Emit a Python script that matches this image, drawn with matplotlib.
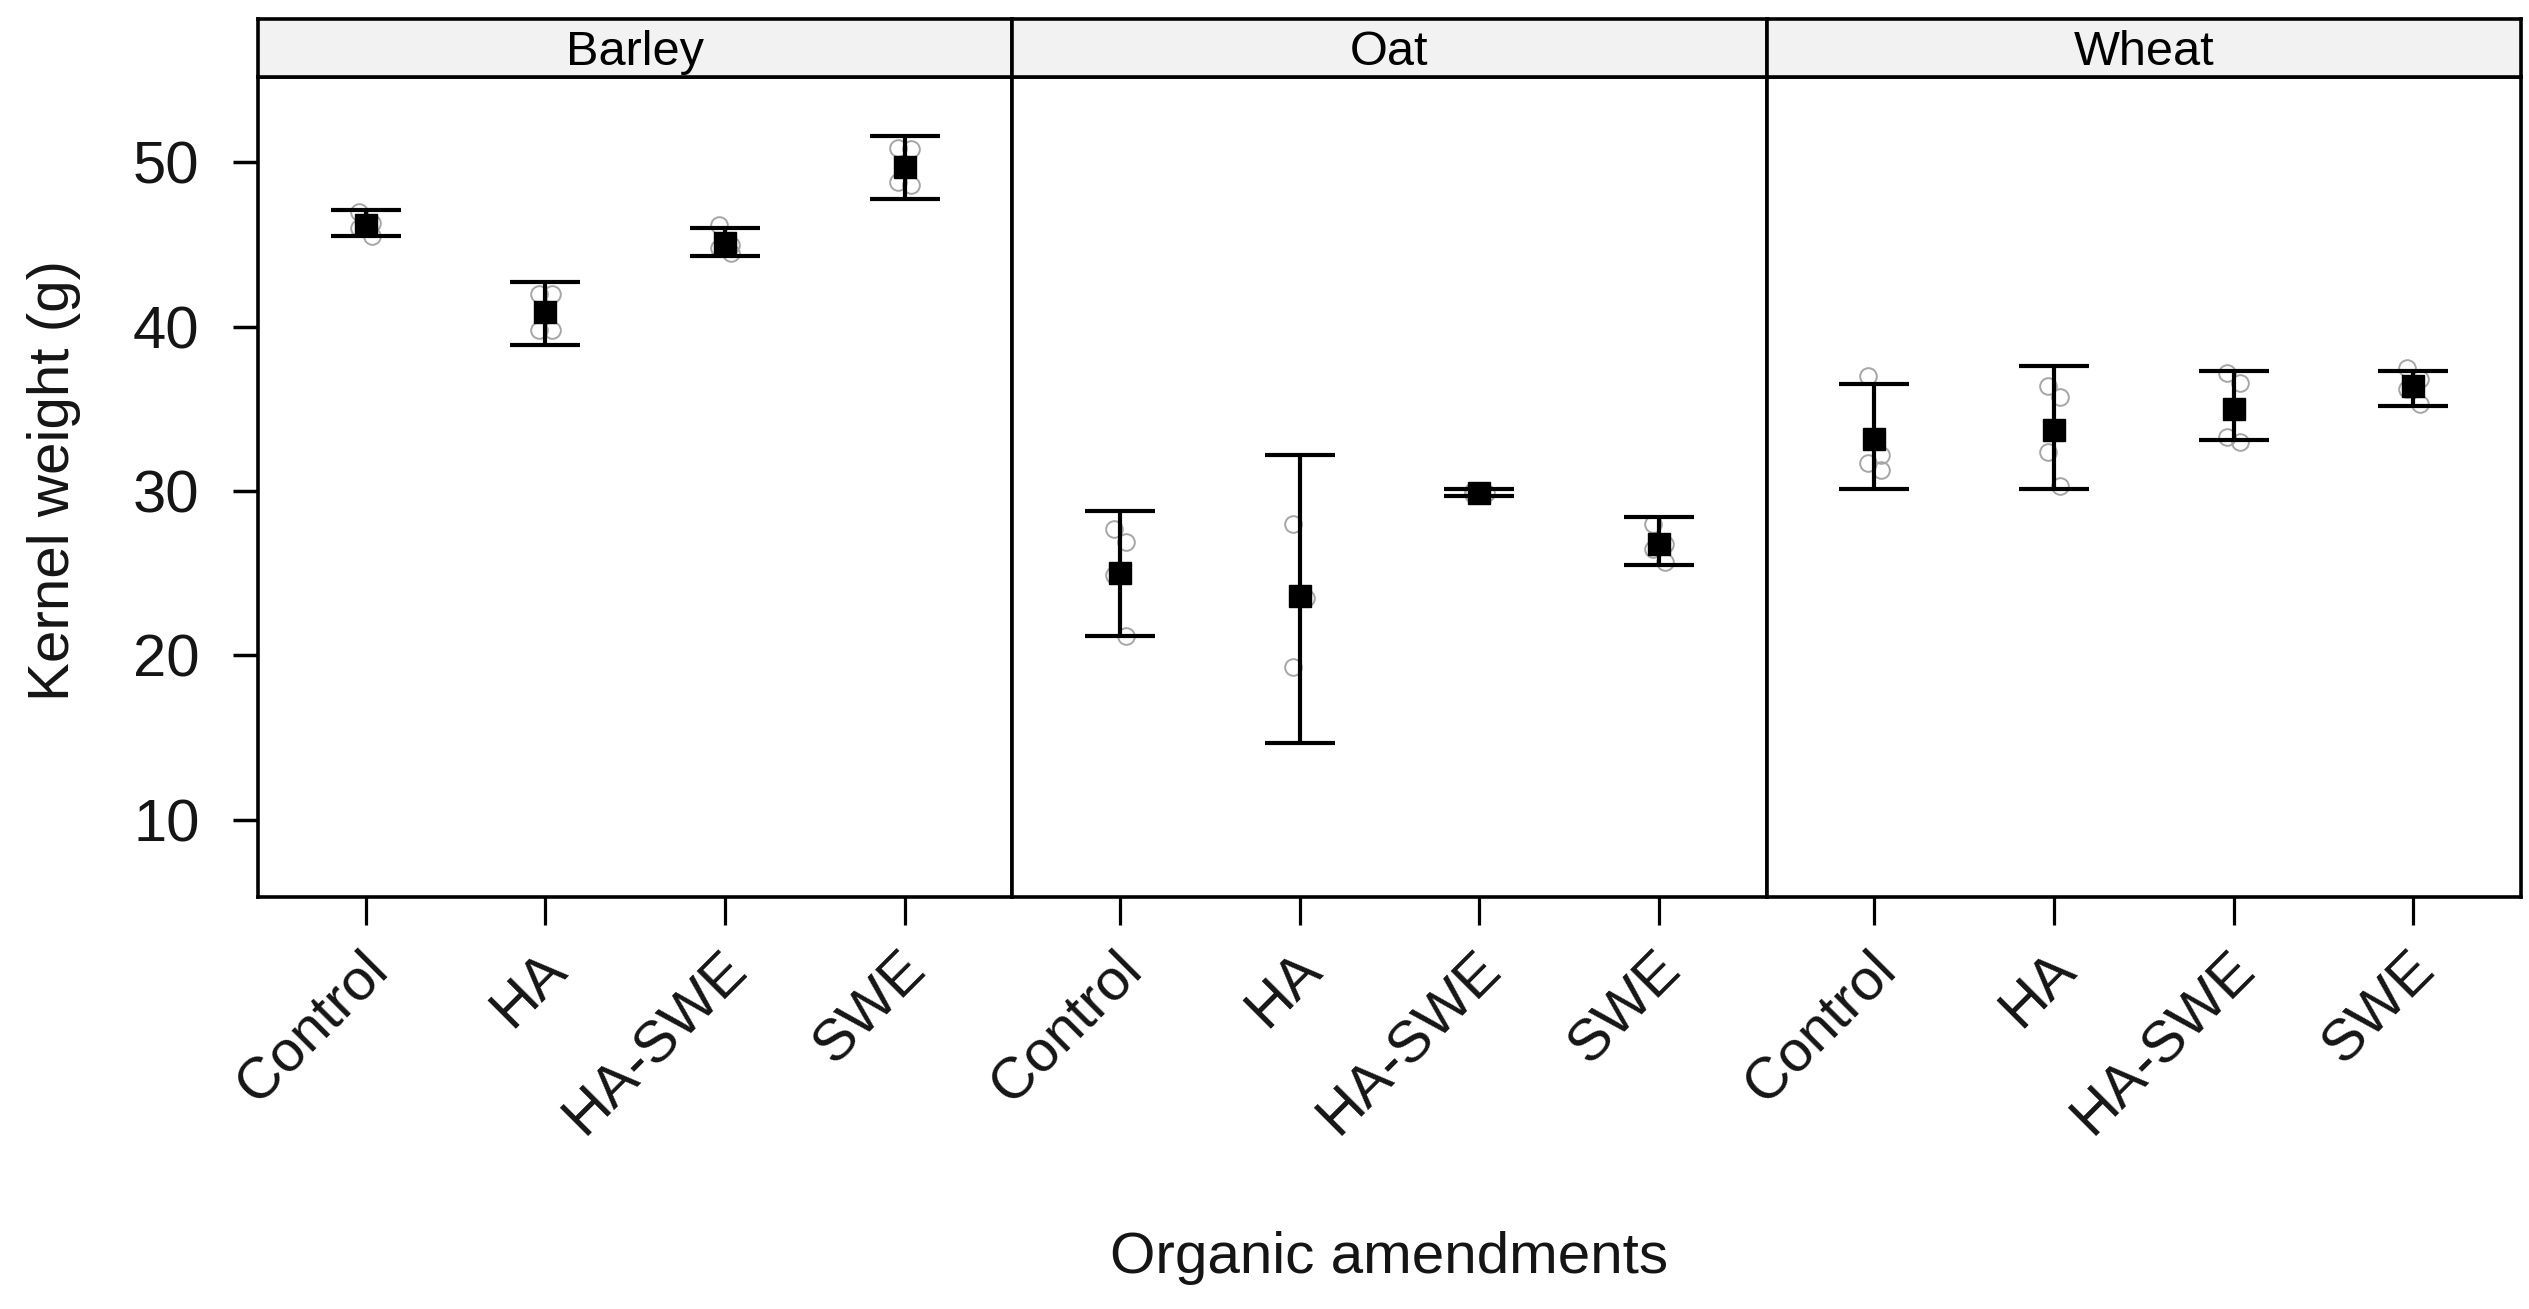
import matplotlib
matplotlib.use("Agg")
import matplotlib.pyplot as plt
import matplotlib.transforms as mtransforms
import numpy as np

plt.rcParams['font.family'] = ['Liberation Sans', 'DejaVu Sans']

crops = ["Barley", "Oat", "Wheat"]
treatments = ["Control", "HA", "HA-SWE", "SWE"]

# group means (g)
means = {
    "Barley": [46.2, 40.9, 45.1, 49.7],
    "Oat": [25.0, 23.6, 29.9, 26.8],
    "Wheat": [33.2, 33.7, 35.0, 36.4],
}
# error bar limits
upper = {
    "Barley": [47.1, 42.7, 46.0, 51.6],
    "Oat": [28.8, 32.2, 30.1, 28.4],
    "Wheat": [36.5, 37.6, 37.3, 37.3],
}
lower = {
    "Barley": [45.5, 38.9, 44.3, 47.8],
    "Oat": [21.2, 14.7, 29.7, 25.5],
    "Wheat": [30.1, 30.1, 33.1, 35.2],
}
# replicate observations
raw = {
    "Barley": [[47.0, 46.3, 46.0, 45.5], [42.0, 42.0, 39.8, 39.8],
               [46.2, 45.0, 44.8, 44.5], [50.9, 50.8, 48.8, 48.6]],
    "Oat": [[27.7, 26.9, 24.9, 21.2], [28.0, 23.5, 19.3],
            [30.0, 29.9, 29.8], [28.0, 26.8, 26.5, 25.7]],
    "Wheat": [[37.0, 32.2, 31.7, 31.3], [36.4, 35.7, 32.4, 30.3],
              [37.2, 36.6, 33.3, 33.0], [37.5, 36.8, 36.2, 35.3]],
}

W, H = 2529, 1309
fig = plt.figure(figsize=(W / 100, H / 100), dpi=100)

left, right = 258 / W, 2521 / W
bottom, top = 1 - 897 / H, 1 - 77 / H
strip_h = (77 - 19) / H
pw = (right - left) / 3
jit = [-0.035, 0.035, -0.035, 0.035]
txt = '#151515'
lw = 2.6
# nudge rotated tick labels a little to the right
shift = mtransforms.ScaledTranslation(0.13, 0, fig.dpi_scale_trans)

for i, crop in enumerate(crops):
    ax = fig.add_axes([left + i * pw, bottom, pw, top - bottom])
    x = np.arange(1, len(treatments) + 1)

    for xi, vals in zip(x, raw[crop]):
        ax.plot(xi + np.array(jit[:len(vals)]), vals, 'o', mfc='none',
                mec='#a6a6a6', ms=12, mew=1.4, zorder=2)

    m = np.array(means[crop])
    yerr = [m - np.array(lower[crop]), np.array(upper[crop]) - m]
    ax.errorbar(x, m, yerr=yerr, fmt='none', ecolor='black', elinewidth=3,
                capsize=25, capthick=3, zorder=3)
    ax.plot(x, m, 's', color='black', ms=15.5, zorder=4)

    ax.set_xlim(0.4, 4.6)
    ax.set_ylim(5.3, 55.2)
    ax.set_xticks(x)
    ax.tick_params(axis='x', length=20, width=2.3, pad=26)
    ax.set_xticklabels(treatments, rotation=45, ha='right', va='center',
                       rotation_mode='anchor', fontsize=42, color=txt)
    if i == 0:
        ax.set_yticks([10, 20, 30, 40, 50])
        ax.tick_params(axis='y', length=18, width=2.5, pad=24, labelsize=43,
                       labelcolor=txt)
    else:
        ax.set_yticks([])
    for lab in ax.get_xticklabels():
        lab.set_transform(lab.get_transform() + shift)
    for s in ax.spines.values():
        s.set_linewidth(lw)

    sax = fig.add_axes([left + i * pw, top, pw, strip_h])
    sax.set_facecolor('#f2f2f2')
    sax.set_xticks([])
    sax.set_yticks([])
    for s in sax.spines.values():
        s.set_linewidth(lw)
    sax.text(0.5, 0.43, crop, ha='center', va='center', fontsize=35,
             color='black', transform=sax.transAxes)

fig.text((left + right) / 2, 0.039, "Organic amendments", ha='center',
         va='center', fontsize=42, color=txt)
fig.text(54 / W, 0.633, "Kernel weight (g)", rotation=90,
         ha='center', va='center', fontsize=42, color=txt)

fig.savefig("out.png", dpi=100)
